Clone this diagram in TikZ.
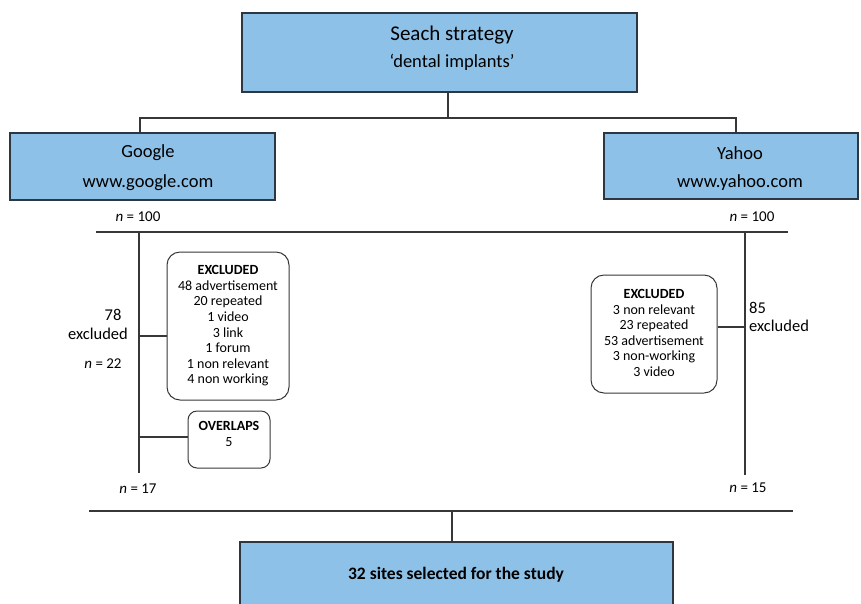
\documentclass[tikz,border=0pt]{standalone}
\usepackage{fontspec}
\setmainfont{Carlito}
\definecolor{boxblue}{RGB}{142,193,231}
\definecolor{boxline}{RGB}{45,55,65}
\definecolor{lnc}{RGB}{55,55,55}
\tikzset{
  bluebox/.style={draw=boxline, fill=boxblue, line width=1.3pt, inner sep=0pt},
  rbox/.style={draw=lnc, fill=white, rounded corners=13pt, line width=1pt, inner sep=0pt},
  conn/.style={draw=lnc, line width=1.1pt},
  big/.style={inner sep=0pt, font=\fontsize{21}{24}\selectfont},
  mid/.style={inner sep=0pt, font=\fontsize{18.5}{22}\selectfont},
  nlab/.style={inner sep=0pt, font=\fontsize{15}{18}\selectfont},
  lst/.style={inner sep=0pt, align=center, font=\fontsize{14}{15.6}\selectfont},
}
\begin{document}
\begin{tikzpicture}[x=1pt,y=-1pt]
\useasboundingbox (0,0) rectangle (861,603);
% boxes
\node[bluebox, minimum width=395pt, minimum height=79pt] (top) at (439.5,52.5) {};
\node[big] (toptxt1) at (452,35) {Seach strategy};
\node[mid] (toptxt2) at (452,62) {‘dental implants’};
\node[bluebox, minimum width=265pt, minimum height=67pt] (google) at (142.5,166.5) {};
\node[mid] (g1) at (148,153) {Google};
\node[mid] (g2) at (148,183) {www.google.com};
\node[bluebox, minimum width=254pt, minimum height=66pt] (yahoo) at (731,166) {};
\node[mid] (y1) at (740,153) {Yahoo};
\node[mid] (y2) at (740,183) {www.yahoo.com};
\node[bluebox, minimum width=433pt, minimum height=70pt] (bottom) at (456.5,577) {};
\node[inner sep=0pt, font=\fontsize{17.5}{20}\selectfont\bfseries] (btxt) at (456,575) {32 sites selected for the study};
% top connectors
\coordinate (j1) at (448,118);
\coordinate (jl) at (140,118);
\coordinate (jr) at (736,118);
\draw[conn] (top.south -| j1) -- (j1);
\draw[conn] (google.north -| jl) -- (jl) -- (jr) -- (yahoo.north -| jr);
% n labels
\node[nlab] (n100l) at (138,217) {\textit{n} = 100};
\node[nlab] (n100r) at (752,217) {\textit{n} = 100};
% middle lines
\coordinate (hL) at (96,232);
\coordinate (hR) at (788,232);
\draw[conn] (hL) -- (hR);
\coordinate (vlt) at (139,232);
\coordinate (vlb) at (139,473);
\coordinate (vrt) at (745,232);
\coordinate (vrb) at (745,475);
\draw[conn] (vlt) -- (vlb);
\draw[conn] (vrt) -- (vrb);
% left excluded box
\node[rbox, minimum width=122pt, minimum height=148pt] (exl) at (228,326) {};
\node[lst] (exltxt) at (228,326) {\textbf{EXCLUDED}\\48 advertisement\\20 repeated\\1 video\\3 link\\1 forum\\1 non relevant\\4 non working};
\coordinate (cl1) at (139,336);
\draw[conn] (cl1) -- (exl.west |- cl1);
\node[nlab, font=\fontsize{16.5}{19}\selectfont] (l78) at (113,315) {78};
\node[nlab, font=\fontsize{16.5}{19}\selectfont] (lexc) at (98,334) {excluded};
\node[nlab] (n22) at (103,364) {\textit{n} = 22};
% overlaps
\node[rbox, rounded corners=9pt, minimum width=82pt, minimum height=57pt] (ov) at (229,439.5) {};
\node[lst] (ovtxt) at (229,434) {\textbf{OVERLAPS}\\5};
\coordinate (cl2) at (139,437);
\draw[conn] (cl2) -- (ov.west |- cl2);
\node[nlab] (n17) at (138,489) {\textit{n} = 17};
% right excluded box
\node[rbox, minimum width=126pt, minimum height=118pt] (exr) at (654,334) {};
\node[lst] (exrtxt) at (654,333) {\textbf{EXCLUDED}\\3 non relevant\\23 repeated\\53 advertisement\\3 non-working\\3 video};
\coordinate (cr1) at (745,327);
\draw[conn] (cr1) -- (exr.east |- cr1);
\node[nlab, font=\fontsize{16.5}{19}\selectfont, anchor=west] (r85) at (749,308) {85};
\node[nlab, font=\fontsize{16.5}{19}\selectfont, anchor=west] (rexc) at (749,326) {excluded};
\node[nlab] (n15) at (748,488) {\textit{n} = 15};
% bottom
\coordinate (bl) at (89,511);
\coordinate (br) at (793,511);
\coordinate (bj) at (452,511);
\draw[conn] (bl) -- (br);
\draw[conn] (bj) -- (bottom.north -| bj);
\end{tikzpicture}
\end{document}
